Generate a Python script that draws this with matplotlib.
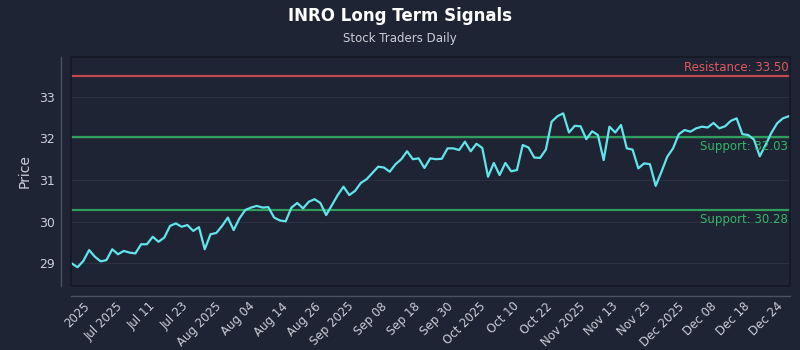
"""INRO long term signals chart.
"""
import numpy as np
import matplotlib
matplotlib.use("Agg")
import matplotlib.pyplot as plt
from matplotlib.patches import Rectangle

# price series
prices = [
    29.00, 28.91, 29.06, 29.32, 29.16, 29.05, 29.08, 29.34, 29.22, 29.30,
    29.26, 29.24, 29.46, 29.46, 29.64, 29.52, 29.62, 29.90, 29.96, 29.88,
    29.92, 29.78, 29.87, 29.34, 29.70, 29.73, 29.90, 30.10, 29.80, 30.08,
    30.28, 30.34, 30.38, 30.34, 30.35, 30.10, 30.03, 30.01, 30.34, 30.45,
    30.32, 30.48, 30.54, 30.45, 30.16, 30.40, 30.64, 30.84, 30.64, 30.74,
    30.93, 31.02, 31.17, 31.32, 31.30, 31.20, 31.38, 31.50, 31.69, 31.50,
    31.52, 31.29, 31.52, 31.50, 31.51, 31.76, 31.76, 31.72, 31.92, 31.69,
    31.87, 31.77, 31.08, 31.41, 31.12, 31.41, 31.21, 31.24, 31.84, 31.78,
    31.54, 31.53, 31.73, 32.40, 32.53, 32.60, 32.14, 32.30, 32.29, 31.98,
    32.17, 32.08, 31.48, 32.28, 32.14, 32.32, 31.76, 31.73, 31.28, 31.40,
    31.38, 30.86, 31.20, 31.56, 31.76, 32.10, 32.20, 32.16, 32.24, 32.28,
    32.26, 32.37, 32.24, 32.29, 32.42, 32.48, 32.10, 32.08, 31.97, 31.57,
    31.84, 32.13, 32.36, 32.48, 32.53,
]

tick_labels = [
    "2025", "Jul 2025", "Jul 11", "Jul 23", "Aug 2025", "Aug 04", "Aug 14",
    "Aug 26", "Sep 2025", "Sep 08", "Sep 18", "Sep 30", "Oct 2025", "Oct 10",
    "Oct 22", "Nov 2025", "Nov 13", "Nov 25", "Dec 2025", "Dec 08", "Dec 18",
    "Dec 24",
]

resistance = 33.50
supports = [32.03, 30.28]

BG = "#1e2433"
FRAME = "#141924"
GRID = "#2b3142"
TEXT = "#c9ced8"
RED = "#c4474f"
GREEN = "#2f9e5c"
CYAN = "#62e4ea"

fig = plt.figure(figsize=(8, 3.5), dpi=100, facecolor=BG)
ax = fig.add_axes([0.089, 0.183, 0.899, 0.654])
ax.set_facecolor(BG)

x = np.arange(len(prices))
ax.set_xlim(-0.1, len(prices) - 1 + 0.3)
ax.set_ylim(28.46, 33.95)

ax.yaxis.grid(True, color=GRID, linewidth=0.8)
ax.set_axisbelow(True)

ax.axhline(resistance, color=RED, linewidth=1.6)
for s in supports:
    ax.axhline(s, color=GREEN, linewidth=1.6)

ax.plot(x, prices, color=CYAN, linewidth=1.6)

trans = ax.get_yaxis_transform()
ax.text(0.997, resistance + 0.05, f"Resistance: {resistance:.2f}",
        transform=trans, ha="right", va="bottom", color="#e0575d", fontsize=8.5)
for s in supports:
    ax.text(0.997, s - 0.07, f"Support: {s:.2f}", transform=trans,
            ha="right", va="top", color="#35b569", fontsize=8.5)

# dark frame around the plotting area
ax.add_patch(Rectangle((0, 0), 1, 1, transform=ax.transAxes, fill=False,
                       edgecolor=FRAME, linewidth=1.2, zorder=5, clip_on=False))

for side in ["top", "right"]:
    ax.spines[side].set_visible(False)
for side in ["left", "bottom"]:
    ax.spines[side].set_position(("outward", 7))
    ax.spines[side].set_color("#4a5163")
    ax.spines[side].set_linewidth(1.0)

ax.set_yticks([29, 30, 31, 32, 33])
ax.tick_params(axis="y", colors=TEXT, labelsize=9, length=0, pad=5)
ax.set_xticks(np.linspace(3.5, 123.5, len(tick_labels)))
ax.set_xticklabels(tick_labels, rotation=45, ha="right", rotation_mode="default")
ax.tick_params(axis="x", colors=TEXT, labelsize=8.5, length=0, pad=3)
ax.set_ylabel("Price", color=TEXT, fontsize=10, labelpad=5)

fig.text(0.5, 0.955, "INRO Long Term Signals", ha="center", va="center",
         color="white", fontsize=12, fontweight="bold")
fig.text(0.5, 0.89, "Stock Traders Daily", ha="center", va="center",
         color=TEXT, fontsize=8.5)

fig.savefig("out.png", dpi=100, facecolor=BG)
